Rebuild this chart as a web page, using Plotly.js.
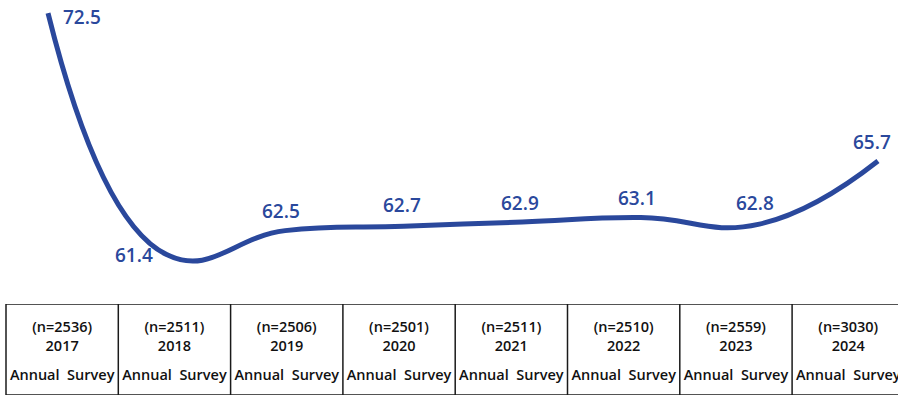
<!DOCTYPE html>
<html>
<head>
<meta charset="utf-8">
<script src="https://cdn.plot.ly/plotly-3.0.1.min.js"></script>
<style>
  html, body { margin: 0; padding: 0; background: #ffffff; }
  #chart { width: 898px; height: 396px; }
</style>
</head>
<body>
<div id="chart"></div>
<script>
// Survey years, respondent counts and the headline score per year
const years = ['2017', '2018', '2019', '2020', '2021', '2022', '2023', '2024'];
const sampleSizes = [2536, 2511, 2506, 2501, 2511, 2510, 2559, 3030];
const scores = [72.5, 61.4, 62.5, 62.7, 62.9, 63.1, 62.8, 65.7];
const surveyName = 'Annual\u00a0 Survey';

const BLUE = '#2a489c';
const LABEL_FONT = { family: 'Open Sans, sans-serif', size: 19, color: BLUE, weight: 600 };
const CELL_FONT = { family: 'Open Sans, sans-serif', size: 14.5, color: '#111111', weight: 600 };

// Where each value label sits relative to its point (anchor + pixel shift)
const labelPlacement = [
  { xanchor: 'left',   xshift: 13, yshift: -4 },
  { xanchor: 'right',  xshift: -12, yshift: 0 },
  { xanchor: 'center', xshift: -4, yshift: 20 },
  { xanchor: 'center', xshift: -2, yshift: 21 },
  { xanchor: 'center', xshift: -2, yshift: 19 },
  { xanchor: 'center', xshift: -4, yshift: 20 },
  { xanchor: 'center', xshift: -4, yshift: 21 },
  { xanchor: 'center', xshift: -6, yshift: 19 }
];

// Trend line
const trend = {
  type: 'scatter',
  mode: 'lines',
  x: years,
  y: scores,
  xaxis: 'x',
  yaxis: 'y',
  line: { color: BLUE, width: 5, shape: 'spline', smoothing: 1.3 },
  hoverinfo: 'skip',
  showlegend: false
};

// Table text: sample size and year on top, survey name below
const headerCells = {
  type: 'scatter',
  mode: 'text',
  x: years,
  y: years.map(() => 0.63),
  text: years.map((yr, i) => '(n=' + sampleSizes[i] + ')<br>' + yr),
  textposition: 'middle center',
  textfont: CELL_FONT,
  xaxis: 'x2',
  yaxis: 'y2',
  hoverinfo: 'skip',
  showlegend: false
};
const footerCells = {
  type: 'scatter',
  mode: 'text',
  x: years,
  y: years.map(() => 0.205),
  text: years.map(() => surveyName),
  textposition: 'middle center',
  textfont: CELL_FONT,
  xaxis: 'x2',
  yaxis: 'y2',
  hoverinfo: 'skip',
  showlegend: false
};

// Value labels; on a category axis annotations take the category's serial index
const labels = scores.map((v, i) => Object.assign({
  x: i,
  y: v,
  xref: 'x',
  yref: 'y',
  text: v.toFixed(1),
  showarrow: false,
  yanchor: 'middle',
  font: LABEL_FONT
}, labelPlacement[i]));

// Table grid: one vertical rule per column boundary plus top and bottom rules
const grid = [];
const border = { color: '#1a1a1a', width: 1.5 };
years.forEach((yr, i) => {
  grid.push({ type: 'line', xref: 'x2', yref: 'y2', x0: i - 0.5, x1: i - 0.5, y0: 0, y1: 1, line: border });
});
grid.push({ type: 'line', xref: 'x2', yref: 'y2', x0: -0.5, x1: years.length + 0.5, y0: 1, y1: 1, line: border });
grid.push({ type: 'line', xref: 'x2', yref: 'y2', x0: -0.5, x1: years.length + 0.5, y0: 0, y1: 0, line: border });

const hidden = { showgrid: false, zeroline: false, showticklabels: false, ticks: '', showline: false, fixedrange: true };

const layout = {
  width: 898,
  height: 396,
  margin: { l: 0, r: 0, t: 0, b: 0 },
  paper_bgcolor: '#ffffff',
  plot_bgcolor: '#ffffff',
  showlegend: false,
  hovermode: false,
  xaxis: Object.assign({ type: 'category', range: [-0.405, 7.169], domain: [0, 1] }, hidden),
  yaxis: Object.assign({ range: [54.9, 73.1], domain: [0, 1] }, hidden),
  xaxis2: Object.assign({ type: 'category', range: [-0.5534, 7.443], anchor: 'y2', overlaying: 'x' }, hidden),
  yaxis2: Object.assign({ range: [0, 1], domain: [0.0025, 0.2323], anchor: 'x2' }, hidden),
  shapes: grid,
  annotations: labels
};

Plotly.newPlot('chart', [trend, headerCells, footerCells], layout, { staticPlot: true, displayModeBar: false });
</script>
</body>
</html>
